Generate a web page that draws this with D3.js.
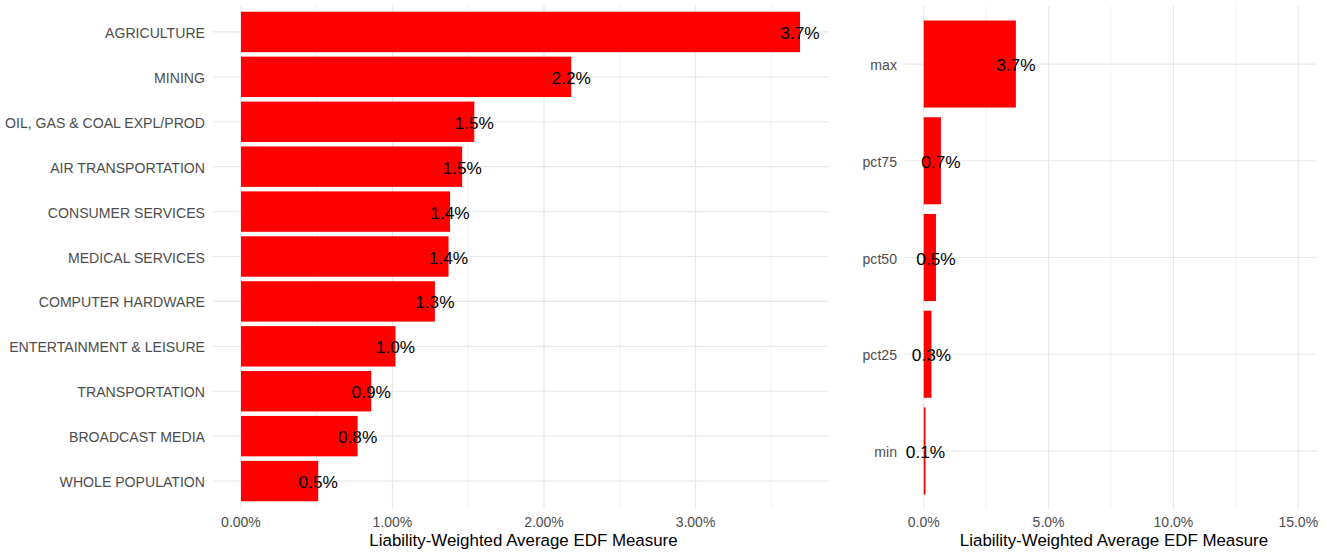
<!DOCTYPE html>
<html><head><meta charset="utf-8">
<script src="https://cdn.jsdelivr.net/npm/d3@7"></script>
<style>body{margin:0;background:#fff}svg{display:block;font-family:"Liberation Sans",Arial,sans-serif}</style>
</head><body><svg id="c" width="1327" height="554"></svg>
<script>
const industries = ["AGRICULTURE","MINING","OIL, GAS & COAL EXPL/PROD","AIR TRANSPORTATION","CONSUMER SERVICES","MEDICAL SERVICES","COMPUTER HARDWARE","ENTERTAINMENT & LEISURE","TRANSPORTATION","BROADCAST MEDIA","WHOLE POPULATION"];
const industryEDF = [3.69,2.18,1.54,1.46,1.38,1.37,1.28,1.02,0.86,0.77,0.51];
const leftTicks = [0,1,2,3];
const stats = ["max","pct75","pct50","pct25","min"];
const statEDF = [3.69,0.69,0.49,0.31,0.07];
const rightTicks = [0,5,10,15];
const axisTitle = "Liability-Weighted Average EDF Measure";

const svg = d3.select("#c");
const GRID = "#e8e8e8";

function panel(cfg){
  const g = svg.append("g");
  const lo = cfg.domain[0], hi = cfg.domain[1];
  const pad = (hi - lo) * 0.05;
  const x = d3.scaleLinear().domain([lo - pad, hi + pad]).range([cfg.x0, cfg.x1]);
  const y = d3.scaleBand().domain(cfg.cats).range([cfg.y0, cfg.y1]).paddingInner(0.1).paddingOuter(0.15);
  const minor = [];
  for (let i = 0; i < cfg.ticks.length - 1; i++) minor.push((cfg.ticks[i] + cfg.ticks[i+1]) / 2);
  const step = cfg.ticks[1] - cfg.ticks[0];
  const last = cfg.ticks[cfg.ticks.length-1] + step/2;
  if (last < hi + pad) minor.push(last);
  g.selectAll(".mn").data(minor).join("line")
    .attr("x1", d => x(d)).attr("x2", d => x(d)).attr("y1", cfg.y0).attr("y2", cfg.y1)
    .attr("stroke", GRID).attr("stroke-width", 0.6);
  g.selectAll(".mj").data(cfg.ticks).join("line")
    .attr("x1", d => x(d)).attr("x2", d => x(d)).attr("y1", cfg.y0).attr("y2", cfg.y1)
    .attr("stroke", GRID).attr("stroke-width", 1.2);
  g.selectAll(".hg").data(cfg.cats).join("line")
    .attr("x1", cfg.x0).attr("x2", cfg.x1)
    .attr("y1", d => y(d) + y.bandwidth()/2).attr("y2", d => y(d) + y.bandwidth()/2)
    .attr("stroke", GRID).attr("stroke-width", 1.2);
  g.selectAll(".bar").data(cfg.cats).join("rect")
    .attr("x", x(0)).attr("y", d => y(d))
    .attr("width", (d,i) => x(cfg.vals[i]) - x(0)).attr("height", y.bandwidth())
    .attr("fill", "#ff0000");
  g.selectAll(".vl").data(cfg.cats).join("text")
    .attr("x", (d,i) => x(cfg.vals[i])).attr("y", d => y(d) + y.bandwidth()/2 + 1)
    .attr("text-anchor", "middle").attr("dominant-baseline", "central")
    .attr("font-size", 17.3).attr("fill", "#000")
    .text((d,i) => d3.format(".1f")(cfg.vals[i]) + "%");
  g.selectAll(".yl").data(cfg.cats).join("text")
    .attr("x", cfg.labelX).attr("y", d => y(d) + y.bandwidth()/2 + 1)
    .attr("text-anchor", "end").attr("dominant-baseline", "central")
    .attr("font-size", 14.1).attr("fill", "#4d4d4d").text(d => d);
  g.selectAll(".xl").data(cfg.ticks).join("text")
    .attr("x", d => x(d)).attr("y", 522).attr("text-anchor", "middle")
    .attr("dominant-baseline", "central")
    .attr("font-size", 14).attr("fill", "#4d4d4d").text(d => d3.format(cfg.fmt)(d) + "%");
  g.append("text").attr("x", (cfg.x0 + cfg.x1)/2 + 3).attr("y", 540)
    .attr("text-anchor", "middle").attr("dominant-baseline", "central")
    .attr("font-size", 16.9).attr("fill", "#000").text(axisTitle);
}

panel({cats: industries, vals: industryEDF, ticks: leftTicks, domain: [0, d3.max(industryEDF)],
  x0: 213, x1: 828, y0: 5, y1: 508, labelX: 205, fmt: ".2f"});
panel({cats: stats, vals: statEDF, ticks: rightTicks, domain: [0, 15],
  x0: 905, x1: 1317, y0: 6, y1: 509, labelX: 897, fmt: ".1f"});
</script></body></html>
